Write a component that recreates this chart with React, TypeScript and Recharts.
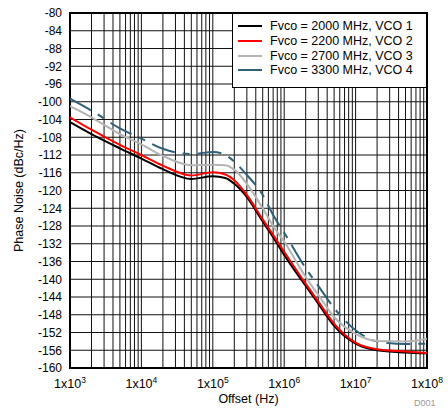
import {
  CartesianGrid,
  Legend,
  Line,
  LineChart,
  ReferenceArea,
  XAxis,
  YAxis,
} from "recharts";

// offset frequencies (Hz) and phase noise (dBc/Hz)
const offsets = [
  1e3, 2e3, 5e3, 1e4, 2e4, 5e4, 1e5, 1.5e5, 2e5, 3e5, 5e5, 7e5, 1e6, 2e6,
  3e6, 5e6, 1e7, 2e7, 5e7, 1e8,
];
const vco1 = [
  -104.6, -107.3, -110.5, -112.8, -115.2, -117.4, -116.8, -117.2, -118.5,
  -121.5, -127, -130.5, -134.5, -141.5, -145.5, -150.5, -154.5, -156, -156.5,
  -156.7,
];
const vco2 = [
  -103.5, -106.3, -109.7, -112, -114.4, -116.6, -115.9, -116.4, -117.7, -121,
  -126.5, -130, -133.8, -141, -145, -150, -154.3, -155.8, -156.3, -156.6,
];
const vco3 = [
  -101, -103.5, -107.3, -109.6, -112.2, -114.3, -114.2, -114.3, -115.3,
  -118.5, -124, -128, -131.5, -139.5, -143.5, -148.5, -152.3, -153.9, -154,
  -153.4,
];
const vco4 = [
  -99.3, -102, -106, -108.3, -110.6, -111.8, -111.3, -112, -113.5, -116.5,
  -121, -125.5, -129.5, -137.5, -141.5, -146.5, -151.5, -154, -154.6, -154.5,
];

const yTicks = [
  -160, -156, -152, -148, -144, -140, -136, -132, -128, -124, -120, -116,
  -112, -108, -104, -100, -96, -92, -88, -84, -80,
];
const decades = [3, 4, 5, 6, 7];
const xTicks = [
  ...decades.flatMap((d) => [1, 2, 3, 4, 5, 6, 7, 8, 9].map((m) => m * 10 ** d)),
  1e8,
];

const series = [
  { key: "vco1", name: "Fvco = 2000 MHz, VCO 1", color: "#000000" },
  { key: "vco2", name: "Fvco = 2200 MHz, VCO 2", color: "#ff0000" },
  { key: "vco3", name: "Fvco = 2700 MHz, VCO 3", color: "#b4b4b4" },
  { key: "vco4", name: "Fvco = 3300 MHz, VCO 4", color: "#2f6079" },
];

const data = offsets.map((f, i) => ({
  f,
  vco1: vco1[i],
  vco2: vco2[i],
  vco3: vco3[i],
  vco4: vco4[i],
}));

function XTick(props: any) {
  const { x, y, payload } = props;
  const v = payload.value;
  const e = Math.round(Math.log10(v));
  if (Math.abs(v - 10 ** e) > 1e-6 * v) return <g />;
  return (
    <text x={x} y={y + 12} textAnchor="middle" fontSize={12.5} fill="#000">
      1x10
      <tspan dy={-5} fontSize={8.5}>
        {e}
      </tspan>
    </text>
  );
}

function LegendBox() {
  return (
    <div
      style={{
        border: "1.5px solid #000",
        background: "#fff",
        boxSizing: "border-box",
        width: 195,
        height: 75,
        padding: "5px 0 0 5px",
        fontSize: 12.5,
        color: "#000",
      }}
    >
      {series.map((s) => (
        <div
          key={s.key}
          style={{ display: "flex", alignItems: "center", height: 14.7, whiteSpace: "nowrap" }}
        >
          <span
            style={{ display: "inline-block", width: 24, height: 2, background: s.color, marginRight: 8 }}
          />
          {s.name}
        </div>
      ))}
    </div>
  );
}

export default function App() {
  return (
    <div
      style={{
        position: "absolute",
        left: 0,
        top: 0,
        width: 448,
        height: 411,
        background: "#fff",
        fontFamily: "'Liberation Sans', Arial, sans-serif",
      }}
    >
      <LineChart
        width={448}
        height={411}
        data={data}
        margin={{ top: 13, right: 21, bottom: 0, left: 0 }}
      >
        <CartesianGrid stroke="#111" />
        <XAxis
          dataKey="f"
          type="number"
          scale="log"
          domain={[1e3, 1e8]}
          ticks={xTicks}
          interval={0}
          tick={XTick}
          tickLine={false}
          axisLine={false}
          height={43}
          allowDataOverflow
          label={{ value: "Offset (Hz)", position: "insideBottom", offset: 8, fontSize: 12.5, fill: "#000" }}
        />
        <YAxis
          type="number"
          domain={[-160, -80]}
          ticks={yTicks}
          interval={0}
          tick={{ fontSize: 12, fill: "#000" }}
          tickLine={false}
          axisLine={false}
          tickMargin={2}
          width={70}
          allowDataOverflow
          label={{
            value: "Phase Noise (dBc/Hz)",
            angle: -90,
            position: "insideLeft",
            dx: 14,
            fontSize: 12.5,
            fill: "#000",
            style: { textAnchor: "middle" },
          }}
        />
        <Line
          dataKey="vco4"
          type="monotone"
          stroke="#2f6079"
          strokeWidth={2}
          strokeDasharray="24 8 7 8"
          dot={false}
          isAnimationActive={false}
        />
        <Line
          dataKey="vco3"
          type="monotone"
          stroke="#b4b4b4"
          strokeWidth={2}
          dot={false}
          isAnimationActive={false}
        />
        <Line
          dataKey="vco1"
          type="monotone"
          stroke="#000000"
          strokeWidth={2}
          dot={false}
          isAnimationActive={false}
        />
        <Line
          dataKey="vco2"
          type="monotone"
          stroke="#ff0000"
          strokeWidth={2}
          dot={false}
          isAnimationActive={false}
        />
        <ReferenceArea
          x1={1e3}
          x2={1e8}
          y1={-160}
          y2={-80}
          fill="none"
          stroke="#000"
          strokeWidth={2}
          ifOverflow="visible"
        />
        <Legend
          layout="vertical"
          align="center"
          verticalAlign="middle"
          wrapperStyle={{ top: 13, left: 232, width: 195, height: 75 }}
          content={() => <LegendBox />}
        />
      </LineChart>
      <div
        style={{ position: "absolute", left: 414, top: 398, fontSize: 9, color: "#999" }}
      >
        D001
      </div>
    </div>
  );
}
